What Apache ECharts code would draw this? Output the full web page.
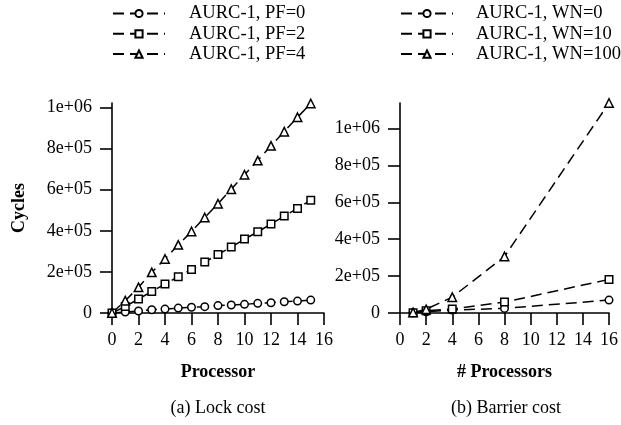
<!DOCTYPE html>
<html>
<head>
<meta charset="utf-8">
<script src="https://cdn.jsdelivr.net/npm/echarts@6/dist/echarts.min.js"></script>
<style>
  html, body { margin: 0; padding: 0; background: #fff; }
  #chart { width: 621px; height: 425px; }
</style>
</head>
<body>
<div id="chart"></div>
<script>
// Lock cost (a)
const lockProcs = [0, 1, 2, 3, 4, 5, 6, 7, 8, 9, 10, 11, 12, 13, 14, 15]
const lockPF0 = [0, 5000, 10000, 16000, 19000, 24000, 28000, 31000, 36000, 39000, 42000, 47000, 50000, 55000, 58000, 63000]
const lockPF2 = [0, 32000, 68000, 105000, 141000, 177000, 212000, 248000, 285000, 321000, 360000, 395000, 433000, 472000, 509000, 549000]
const lockPF4 = [0, 60000, 125000, 198000, 263000, 332000, 397000, 465000, 532000, 603000, 673000, 742000, 814000, 883000, 953000, 1020000]

// Barrier cost (b)
const barrierProcs = [1, 2, 4, 8, 16]
const barrierWN0 = [1000, 7000, 16000, 25000, 70000]
const barrierWN10 = [2000, 12000, 22000, 59000, 182000]
const barrierWN100 = [3000, 20000, 86000, 306000, 1138000]

// Ticks
const xTicks = [0, 2, 4, 6, 8, 10, 12, 14, 16]
const yTicks = [0, 200000, 400000, 600000, 800000, 1000000]
const yTickLabels = ['0', '2e+05', '4e+05', '6e+05', '8e+05', '1e+06']

const FONT = 'Liberation Serif'
const FS = 18
const BLACK = '#000'

const chart = echarts.init(document.getElementById('chart'))

const pairs = (xs, ys) => xs.map((x, i) => [x, ys[i]])

const mkSeries = (name, xs, ys, symbol, idx) => ({
  name,
  type: 'line',
  xAxisIndex: idx,
  yAxisIndex: idx,
  data: pairs(xs, ys),
  symbol,
  symbolSize: symbol === 'triangle' ? 8.5 : 7.5,
  itemStyle: { color: '#fff', borderColor: BLACK, borderWidth: 1.5 },
  lineStyle: { color: BLACK, width: 1.5, type: [11, 6] },
  emphasis: { disabled: true },
  z: 3,
})

const mkX = (idx, name) => ({
  type: 'value',
  gridIndex: idx,
  min: 0,
  max: 16,
  interval: 2,
  name,
  nameLocation: 'middle',
  nameGap: 50,
  nameTextStyle: { fontFamily: FONT, fontSize: FS, fontWeight: 'bold', color: BLACK },
  axisLine: { show: true, onZero: false, lineStyle: { color: BLACK, width: 1.6 } },
  axisTick: { show: true, length: 12, lineStyle: { color: BLACK, width: 1.6 }, customValues: xTicks },
  axisLabel: { fontFamily: FONT, fontSize: FS, color: BLACK, margin: 18, customValues: xTicks },
  splitLine: { show: false },
})

const mkY = (idx, max, name) => ({
  type: 'value',
  gridIndex: idx,
  min: 0,
  max,
  name,
  nameLocation: 'middle',
  nameGap: 84,
  nameTextStyle: { fontFamily: FONT, fontSize: FS, fontWeight: 'bold', color: BLACK },
  axisLine: { show: true, onZero: false, lineStyle: { color: BLACK, width: 1.6 } },
  axisTick: { show: true, length: 12, lineStyle: { color: BLACK, width: 1.6 }, customValues: yTicks },
  axisLabel: {
    fontFamily: FONT, fontSize: FS, color: BLACK, margin: 20,
    customValues: yTicks,
    formatter: (v) => yTickLabels[yTicks.indexOf(v)] ?? '',
  },
  splitLine: { show: false },
})

const mkLegend = (left, names, textPad) => ({
  orient: 'vertical',
  left,
  top: 4,
  padding: 0,
  itemWidth: 52,
  itemHeight: 9,
  itemGap: 1.3,
  selectedMode: false,
  data: names,
  textStyle: { fontFamily: FONT, fontSize: 18.5, color: BLACK, lineHeight: 18, padding: [0, 0, 0, textPad] },
})

chart.setOption({
  animation: false,
  backgroundColor: '#fff',
  title: [
    { text: '(a) Lock cost', left: 218, top: 399, textAlign: 'center', padding: 0,
      textStyle: { fontFamily: FONT, fontSize: FS, fontWeight: 'normal', color: BLACK } },
    { text: '(b) Barrier cost', left: 506, top: 399, textAlign: 'center', padding: 0,
      textStyle: { fontFamily: FONT, fontSize: FS, fontWeight: 'normal', color: BLACK } },
  ],
  legend: [
    mkLegend(112, ['AURC-1, PF=0', 'AURC-1, PF=2', 'AURC-1, PF=4'], 19),
    mkLegend(400, ['AURC-1, WN=0', 'AURC-1, WN=10', 'AURC-1, WN=100'], 18),
  ],
  grid: [
    { left: 112, top: 103, width: 212, height: 210 },
    { left: 400, top: 103, width: 212, height: 210 },
  ],
  xAxis: [mkX(0, 'Processor'), mkX(1, '# Processors')],
  yAxis: [mkY(0, 1022400, 'Cycles'), mkY(1, 1138000, '')],
  series: [
    mkSeries('AURC-1, PF=0', lockProcs, lockPF0, 'circle', 0),
    mkSeries('AURC-1, PF=2', lockProcs, lockPF2, 'rect', 0),
    mkSeries('AURC-1, PF=4', lockProcs, lockPF4, 'triangle', 0),
    mkSeries('AURC-1, WN=0', barrierProcs, barrierWN0, 'circle', 1),
    mkSeries('AURC-1, WN=10', barrierProcs, barrierWN10, 'rect', 1),
    mkSeries('AURC-1, WN=100', barrierProcs, barrierWN100, 'triangle', 1),
  ],
})
</script>
</body>
</html>
